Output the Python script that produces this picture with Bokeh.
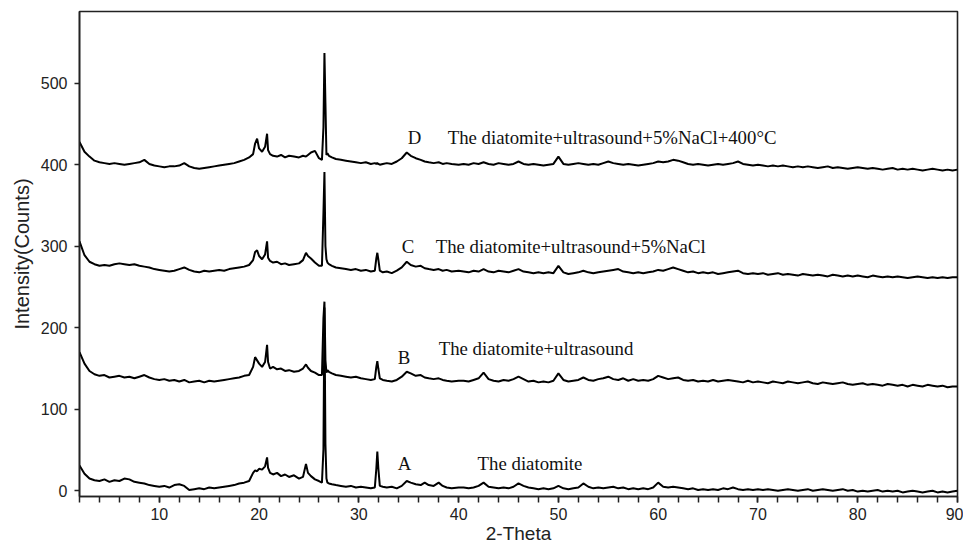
from bokeh.plotting import figure
from bokeh.models import FixedTicker, Range1d, Label
from bokeh.embed import file_html
from bokeh.resources import INLINE

# ---- data (2-Theta positions and intensities) ----
two_theta_low = [2.0, 2.5, 3.0, 3.5, 4.0, 4.5, 5.0, 5.5, 6.0, 6.5, 7.0, 7.5, 8.0, 8.5, 9.0, 9.5,
                 10.0, 10.5, 11.0, 11.5, 12.0, 12.5, 13.0, 13.5, 14.0, 14.5, 15.0, 15.5, 16.0,
                 16.5, 17.0, 17.5, 18.0, 18.5, 19.0]
two_theta_mid = [19.4, 19.6, 19.8, 20.0, 20.3, 20.6, 20.8, 20.9, 21.1, 21.4, 21.8, 22.2, 22.6,
                 23.0, 23.5, 24.0, 24.4, 24.7, 24.9, 25.2, 25.6, 26.0]
two_theta_peak = [26.3, 26.45, 26.55, 26.65, 26.75, 26.85, 27.0]
two_theta_after = [27.3, 27.7, 28.2, 28.7, 29.2, 29.7, 30.2, 30.7, 31.2, 31.6, 31.75, 31.85,
                   31.95, 32.1, 32.4, 32.8, 33.3, 33.8, 34.3, 34.8, 35.2, 35.7, 36.2, 36.6,
                   37.0, 37.5, 38.0, 38.4, 38.8, 39.3, 40.0]
two_theta_high = [40.5, 41.0, 41.5, 42.0, 42.5, 43.0, 43.5, 44.0, 44.5, 45.0,
                  45.5, 46.0, 46.5, 47.0, 47.5, 48.0, 48.5, 49.0, 49.5, 50.0,
                  50.5, 51.0, 51.5, 52.0, 52.5, 53.0, 53.5, 54.0, 54.5, 55.0,
                  55.5, 56.0, 56.5, 57.0, 57.5, 58.0, 58.5, 59.0, 59.5, 60.0,
                  60.5, 61.0, 61.5, 62.0, 62.5, 63.0, 63.5, 64.0, 64.5, 65.0,
                  65.5, 66.0, 66.5, 67.0, 67.5, 68.0, 68.5, 69.0, 69.5, 70.0,
                  70.5, 71.0, 71.5, 72.0, 72.5, 73.0, 73.5, 74.0, 74.5, 75.0,
                  75.5, 76.0, 76.5, 77.0, 77.5, 78.0, 78.5, 79.0, 79.5, 80.0,
                  80.5, 81.0, 81.5, 82.0, 82.5, 83.0, 83.5, 84.0, 84.5, 85.0,
                  85.5, 86.0, 86.5, 87.0, 87.5, 88.0, 88.5, 89.0, 89.5, 90.0]

a_low = [31, 21, 15, 13, 12, 14, 11, 13, 12, 15, 14, 11, 10, 9, 7, 6, 5, 6, 4, 7, 8, 6, 1, 2, 3,
         2, 4, 3, 4, 5, 6, 7, 9, 10, 12]
a_mid = [22, 25, 24, 27, 26, 30, 41, 28, 22, 20, 22, 18, 20, 17, 19, 15, 17, 33, 22, 18, 14, 12]
a_peak = [10, 51, 225, 57, 15, 10, 9]
a_after = [8, 7, 6, 5, 6, 4, 5, 4, 3, 4, 27, 48, 28, 6, 5, 4, 5, 3, 6, 12, 10, 8, 7, 10, 7, 6,
           10, 6, 4, 3, 4]
a_high = [4, 3, 4, 6, 10, 5, 4, 3, 4, 3,
          5, 9, 6, 4, 3, 2, 3, 2, 3, 6,
          3, 2, 3, 4, 9, 5, 3, 4, 3, 4,
          5, 3, 4, 2, 3, 2, 3, 2, 4, 10,
          5, 4, 5, 4, 3, 2, 3, 1, 2, 1,
          2, 1, 3, 2, 4, 2, 1, 2, 1, 2,
          1, 2, 1, 0, 1, 2, 1, 0, 1, 2,
          0, 1, 2, 1, 0, 1, 2, 0, 1, -1,
          0, -1, 0, 1, -1, 0, -1, 0, -2, -1,
          0, -1, -2, -1, 0, -2, -1, -2, -1, 0]

b_low = [170, 156, 147, 143, 141, 142, 139, 140, 141, 139, 140, 138, 140, 142, 139, 137, 136,
         137, 135, 136, 134, 136, 133, 134, 135, 133, 135, 134, 135, 136, 137, 138, 139, 141, 142]
b_mid = [152, 164, 160, 156, 152, 158, 179, 158, 150, 152, 149, 150, 147, 148, 146, 147, 150,
         155, 151, 147, 145, 142]
b_peak = [142, 212, 232, 160, 145, 148, 146]
b_after = [144, 142, 141, 140, 139, 140, 138, 137, 136, 137, 152, 159, 150, 138, 136, 135, 134,
           136, 140, 146, 144, 141, 142, 139, 138, 137, 138, 136, 135, 134, 135]
b_high = [135, 134, 136, 138, 145, 137, 135, 134, 136, 135,
          137, 140, 137, 134, 135, 133, 134, 133, 135, 144,
          136, 134, 135, 136, 139, 136, 135, 137, 138, 140,
          137, 136, 138, 135, 137, 135, 136, 135, 137, 141,
          139, 137, 138, 139, 136, 135, 136, 134, 135, 134,
          136, 134, 135, 136, 135, 134, 133, 135, 133, 134,
          133, 132, 134, 133, 132, 134, 133, 132, 133, 134,
          132, 131, 133, 132, 131, 132, 133, 131, 130, 131,
          132, 130, 131, 130, 129, 131, 130, 129, 130, 128,
          130, 129, 128, 130, 129, 128, 129, 127, 128, 128]

c_low = [306, 289, 281, 278, 276, 277, 276, 278, 279, 278, 277, 278, 276, 275, 274, 272, 271,
         270, 269, 270, 272, 274, 271, 269, 268, 270, 269, 270, 271, 270, 272, 273, 274, 275, 277]
c_mid = [283, 293, 295, 288, 284, 290, 306, 286, 282, 280, 281, 278, 279, 277, 278, 279, 283,
         292, 288, 285, 280, 276]
c_peak = [276, 341, 391, 300, 284, 280, 278]
c_after = [276, 274, 273, 272, 271, 272, 270, 271, 269, 270, 285, 292, 284, 270, 268, 269, 267,
           270, 274, 281, 277, 275, 276, 273, 272, 271, 272, 270, 271, 269, 270]
c_high = [269, 268, 270, 269, 272, 269, 268, 270, 269, 268,
          270, 272, 269, 268, 267, 268, 267, 268, 267, 276,
          268, 266, 267, 268, 270, 268, 267, 268, 269, 270,
          271, 272, 269, 268, 267, 268, 267, 268, 269, 271,
          270, 272, 274, 272, 270, 268, 269, 267, 268, 267,
          268, 266, 267, 268, 269, 270, 267, 266, 267, 266,
          267, 265, 266, 267, 265, 266, 265, 264, 266, 265,
          264, 265, 264, 263, 265, 264, 263, 264, 263, 264,
          263, 262, 264, 263, 262, 263, 262, 263, 262, 261,
          262, 263, 262, 261, 262, 261, 262, 261, 262, 262]

d_low = [428, 416, 410, 405, 403, 402, 401, 402, 401, 400, 401, 402, 403, 406, 401, 399, 398,
         397, 398, 398, 399, 402, 398, 396, 395, 396, 397, 398, 399, 400, 401, 402, 404, 406, 409]
d_mid = [413, 426, 432, 420, 416, 422, 438, 418, 413, 411, 410, 412, 409, 411, 410, 409, 411,
         410, 412, 415, 417, 408]
d_peak = [406, 446, 537, 475, 412, 414, 411]
d_after = [409, 407, 406, 405, 404, 403, 402, 403, 401, 402, 401, 402, 401, 400, 401, 402, 401,
           404, 408, 415, 411, 408, 406, 404, 403, 402, 403, 401, 402, 401, 400]
d_high = [401, 400, 402, 401, 403, 401, 400, 402, 401, 400,
          401, 404, 401, 400, 401, 400, 399, 400, 401, 410,
          401, 400, 401, 402, 401, 400, 401, 400, 402, 404,
          402, 401, 400, 401, 400, 399, 400, 401, 402, 404,
          403, 404, 406, 405, 403, 401, 400, 401, 400, 399,
          400, 401, 400, 401, 402, 404, 401, 400, 399, 400,
          399, 398, 399, 398, 399, 398, 397, 398, 397, 398,
          397, 396, 397, 398, 396, 397, 396, 395, 396, 397,
          396, 395, 396, 395, 394, 395, 396, 394, 395, 394,
          395, 394, 393, 394, 395, 394, 393, 394, 393, 394]

x_ticks = [10, 20, 30, 40, 50, 60, 70, 80, 90]
x_minor_ticks = [2, 4, 6, 8, 10, 12, 14, 16, 18, 20, 22, 24, 26, 28, 30, 32, 34, 36, 38, 40,
                 42, 44, 46, 48, 50, 52, 54, 56, 58, 60, 62, 64, 66, 68, 70, 72, 74, 76, 78,
                 80, 82, 84, 86, 88, 90]
y_ticks = [0, 100, 200, 300, 400, 500]

x_title = "2-Theta"
y_title = "Intensity(Counts)"
curve_letters = ["A", "B", "C", "D"]
curve_names = ["The diatomite", "The diatomite+ultrasound",
               "The diatomite+ultrasound+5%NaCl",
               "The diatomite+ultrasound+5%NaCl+400\u00b0C"]
letter_pos = [(33.9, 33), (33.9, 164), (34.3, 300), (34.9, 434)]
name_pos = [(41.9, 33), (38.0, 174), (37.7, 300), (38.9, 434)]

two_theta = two_theta_low + two_theta_mid + two_theta_peak + two_theta_after + two_theta_high
series = [
    a_low + a_mid + a_peak + a_after + a_high,
    b_low + b_mid + b_peak + b_after + b_high,
    c_low + c_mid + c_peak + c_after + c_high,
    d_low + d_mid + d_peak + d_after + d_high,
]

# ---- figure ----
p = figure(width=963, height=546, output_backend="svg", toolbar_location=None,
           x_range=Range1d(2, 90), y_range=Range1d(-7, 588),
           min_border_left=79, min_border_top=11, min_border_right=6, min_border_bottom=48)
p.background_fill_color = "white"
p.border_fill_color = "white"
p.grid.visible = False
p.outline_line_color = "#222222"
p.outline_line_width = 1.6

for ys in series:
    p.line(two_theta, ys, line_color="black", line_width=2.0)

sans = "Liberation Sans"
serif = "Liberation Serif"

p.xaxis.ticker = FixedTicker(ticks=x_ticks, minor_ticks=x_minor_ticks)
p.yaxis.ticker = FixedTicker(ticks=y_ticks, minor_ticks=[])
for ax in (p.xaxis[0], p.yaxis[0]):
    ax.axis_line_color = "#222222"
    ax.axis_line_width = 1.6
    ax.major_tick_line_color = "#222222"
    ax.minor_tick_line_color = "#222222"
    ax.major_tick_line_width = 1.5
    ax.minor_tick_line_width = 1.5
    ax.major_tick_in = 0
    ax.minor_tick_in = 0
    ax.major_label_text_font = sans
    ax.major_label_text_font_size = "16px"
    ax.major_label_text_color = "#222222"
    ax.axis_label_text_font = sans
    ax.axis_label_text_font_style = "normal"
    ax.axis_label_text_color = "#222222"

p.xaxis.major_tick_out = 6
p.xaxis.minor_tick_out = 6
p.xaxis.major_label_standoff = 5
p.xaxis.axis_label = x_title
p.xaxis.axis_label_text_font_size = "19px"
p.xaxis.axis_label_standoff = 0

p.yaxis.major_tick_out = 5
p.yaxis.minor_tick_out = 0
p.yaxis.major_label_standoff = 7
p.yaxis.axis_label = y_title
p.yaxis.axis_label_text_font_size = "20px"
p.yaxis.axis_label_standoff = 5

for letter, (lx, ly), name, (nx, ny) in zip(curve_letters, letter_pos, curve_names, name_pos):
    p.add_layout(Label(x=lx, y=ly, text=letter, text_font=serif, text_font_size="18.8px",
                       text_baseline="middle", text_align="left", text_color="#111111"))
    p.add_layout(Label(x=nx, y=ny, text=name, text_font=serif, text_font_size="18.8px",
                       text_baseline="middle", text_align="left", text_color="#111111"))

open("out.html", "w").write(file_html(p, INLINE))
